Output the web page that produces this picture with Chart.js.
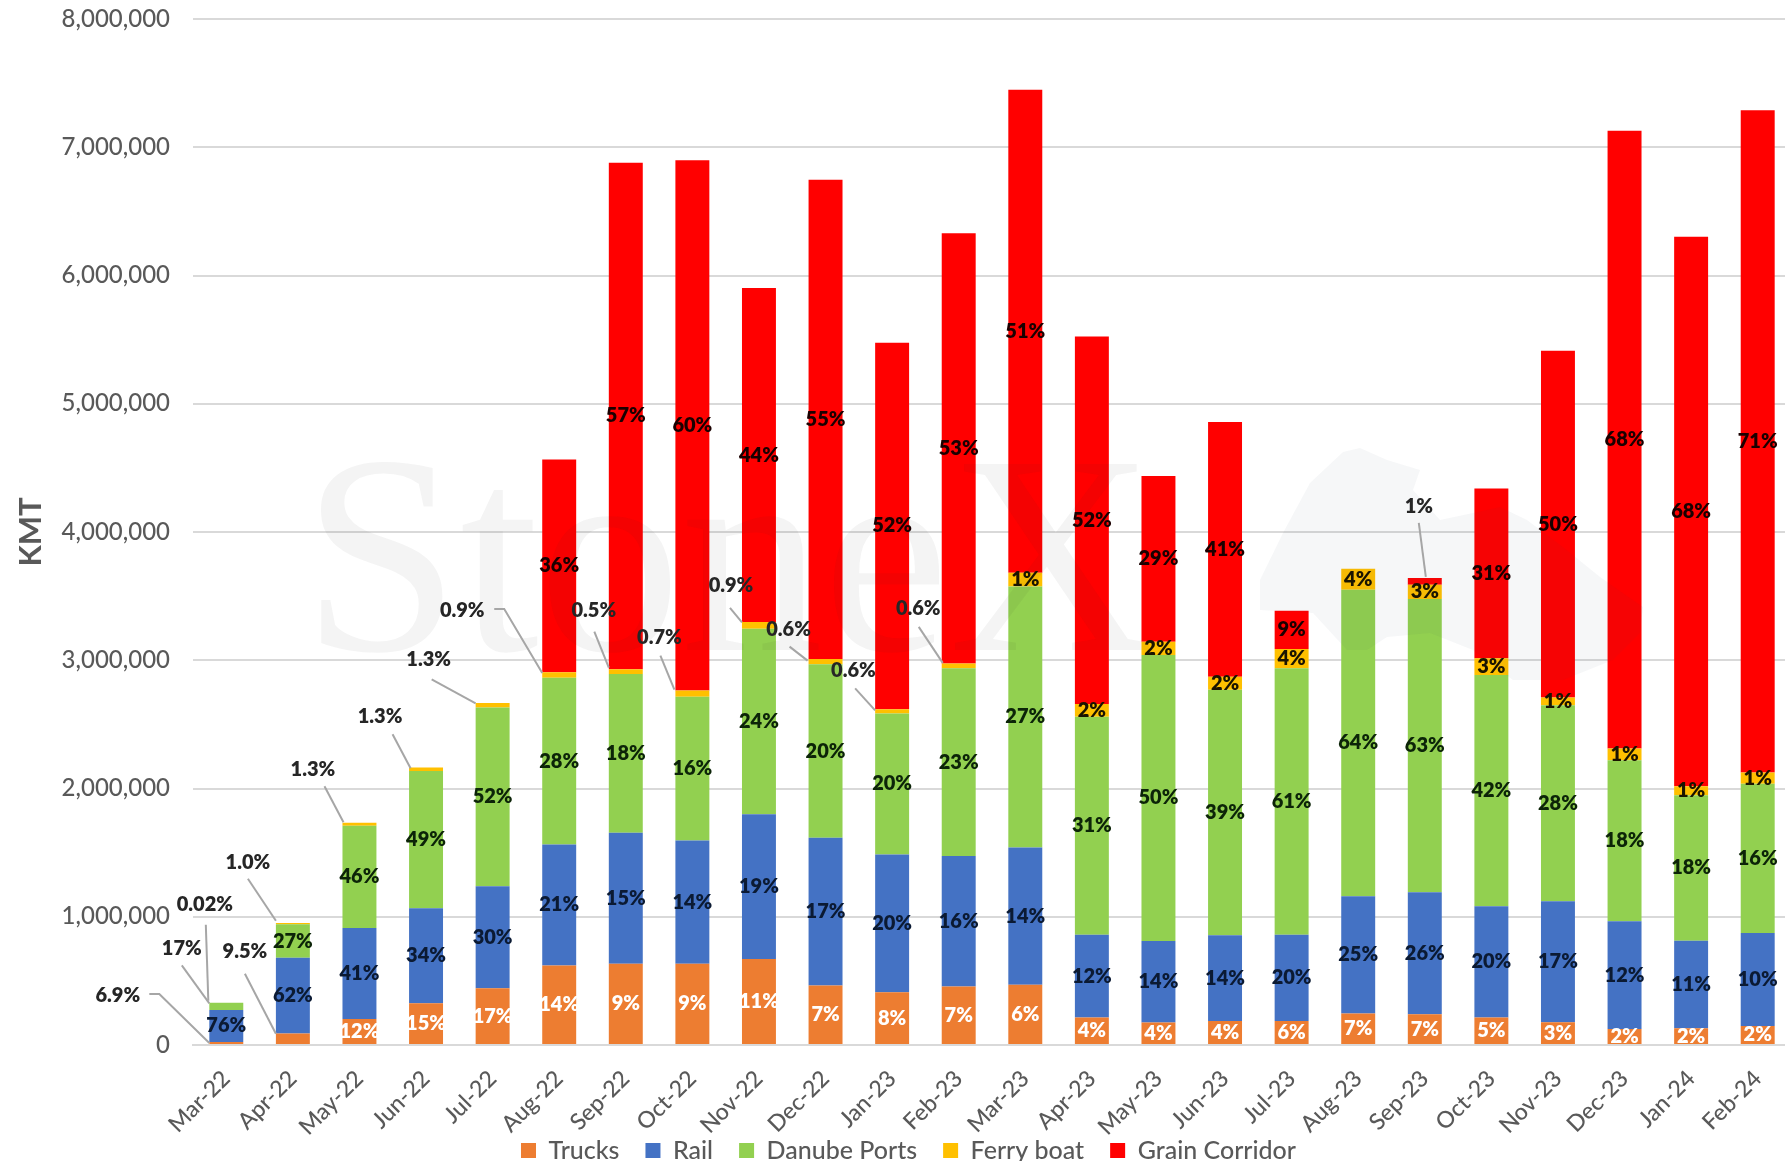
<!DOCTYPE html>
<html>
<head>
<meta charset="utf-8">
<title>Ukrainian grain exports by route</title>
<script src="https://cdn.jsdelivr.net/npm/chart.js@4"></script>
<style>
  html, body { margin: 0; padding: 0; background: #fff; overflow: hidden; }
  canvas { display: block; }
</style>
</head>
<body>
<canvas id="chart" width="1800" height="1161"></canvas>
<script>
// Monthly export volumes per route
const months = ['Mar-22','Apr-22','May-22','Jun-22','Jul-22','Aug-22','Sep-22','Oct-22','Nov-22','Dec-22','Jan-23','Feb-23','Mar-23','Apr-23','May-23','Jun-23','Jul-23','Aug-23','Sep-23','Oct-23','Nov-23','Dec-23','Jan-24','Feb-24'];
const trucks = [22800,90000,203000,326000,443000,620000,633000,633000,670000,464000,412000,456000,470000,214000,175000,188000,188000,245000,240000,214000,177000,125000,130000,149000];
const rail = [250800,590000,709000,740000,795000,944000,1022000,962000,1130000,1152000,1074000,1017000,1070000,646000,636000,667000,672000,915000,951000,868000,944000,839000,683000,724000];
const danube = [56100,261000,798000,1070000,1393000,1300000,1238000,1121000,1445000,1352000,1099000,1464000,2035000,1699000,2230000,1915000,2077000,2390000,2286000,1803000,1529000,1257000,1134000,1165000];
const ferry = [70,9600,23000,28000,35000,42000,37000,48000,53000,42000,33000,38000,107000,99000,104000,101000,150000,164000,112000,130000,60000,91000,70000,86000];
const grain = [0,0,0,0,0,1660000,3950000,4135000,2604000,3737000,2858000,3354000,3767000,2866000,1291000,1987000,298000,0,52000,1325000,2703000,4817000,4285000,5165000];

// Share of each month's total shown inside the bars; null means a callout or no label
const truckShare = [null,null,'12%','15%','17%','14%','9%','9%','11%','7%','8%','7%','6%','4%','4%','4%','6%','7%','7%','5%','3%','2%','2%','2%'];
const railShare = ['76%','62%','41%','34%','30%','21%','15%','14%','19%','17%','20%','16%','14%','12%','14%','14%','20%','25%','26%','20%','17%','12%','11%','10%'];
const danubeShare = [null,'27%','46%','49%','52%','28%','18%','16%','24%','20%','20%','23%','27%','31%','50%','39%','61%','64%','63%','42%','28%','18%','18%','16%'];
const ferryShare = [null,null,null,null,null,null,null,null,null,null,null,null,'1%','2%','2%','2%','4%','4%','3%','3%','1%','1%','1%','1%'];
const grainShare = [null,null,null,null,null,'36%','57%','60%','44%','55%','52%','53%','51%','52%','29%','41%','9%',null,null,'31%','50%','68%','68%','71%'];

const seriesNames = ['Trucks','Rail','Danube Ports','Ferry boat','Grain Corridor'];
const seriesColors = ['#ED7D31','#4472C4','#92D050','#FFC000','#FF0000'];
const seriesValues = [trucks, rail, danube, ferry, grain];
const seriesShares = [truckShare, railShare, danubeShare, ferryShare, grainShare];
const shareColors = ['#ffffff','#0b1a33','#0c2408','#1a1400','#1a0000'];

// Labels for the slim segments, pulled off the bar with a leader line.
// Offsets are in pixels from the bar's left edge at the segment's centre.
const callouts = [
  { month: 0, series: 0, text: '6.9%', dx: -91.5, dy: -47, leader: [[-60,-49],[-50,-49],[0,0]] },
  { month: 0, series: 2, text: '17%', dx: -27.5, dy: -58, leader: [[-27.5,-41],[0,-3]] },
  { month: 0, series: 3, text: '0.02%', dx: -4.5, dy: -98, leader: [[-3.5,-78],[-1,-2]] },
  { month: 1, series: 3, text: '1.0%', dx: -28, dy: -61, leader: [[-28,-45],[0,-3]] },
  { month: 1, series: 0, text: '9.5%', dx: -31, dy: -87, leader: [[-31,-65],[0,-5]] },
  { month: 2, series: 3, text: '1.3%', dx: -29.6, dy: -55, leader: [[-18,-38],[1,-2]] },
  { month: 3, series: 3, text: '1.3%', dx: -29, dy: -53, leader: [[-16.5,-35],[1.5,-1]] },
  { month: 4, series: 3, text: '1.3%', dx: -47, dy: -46, leader: [[-44,-26],[0,-2]] },
  { month: 5, series: 3, text: '0.9%', dx: -80, dy: -64, leader: [[-48,-66],[-38,-66],[0,-2]] },
  { month: 6, series: 3, text: '0.5%', dx: -15, dy: -61, leader: [[-14.5,-40],[0,-4]] },
  { month: 7, series: 3, text: '0.7%', dx: -16, dy: -56, leader: [[-15,-38],[-1,-4]] },
  { month: 8, series: 3, text: '0.9%', dx: -11, dy: -40, leader: [[-12,-17.5],[0,-3]] },
  { month: 9, series: 3, text: '0.6%', dx: -20, dy: -32, leader: [[-19,-15],[-1,-1]] },
  { month: 10, series: 3, text: '0.6%', dx: -21.7, dy: -40.6, leader: [[-20,-23],[0,-1]] },
  { month: 11, series: 3, text: '0.6%', dx: -23.5, dy: -57, leader: [[-23,-39],[1,-3]] },
  { month: 18, series: 4, text: '1%', dx: 11, dy: -75, leader: [[11,-58.6],[18,-4.6]] }
];

// Outline of the pale country shape behind the bars
const mapOutline = [[1343,452],[1360,448],[1387,460],[1420,470],[1413,490],[1440,520],[1473,513],[1500,507],[1527,520],[1563,547],[1600,577],[1643,607],[1640,633],[1613,660],[1563,680],[1513,680],[1473,650],[1430,633],[1387,637],[1367,650],[1347,650],[1313,613],[1260,610],[1260,580],[1283,533],[1310,483]];

const labelFont = '800 20px Lato';
const fontFamily = 'Lato';

const overlayPlugin = {
  id: 'overlay',
  afterLayout(chart) {
    // Month labels run down beside the legend, so let them use the full height
    chart.scales.x.bottom = chart.height;
    const lg = chart.legend;
    lg.left += 5.5; lg.right += 5.5;
    lg.top = 1112; lg.bottom = chart.height;
  },
  afterDatasetsDraw(chart) {
    const ctx = chart.ctx;

    // Faint company wordmark and map across the plot
    ctx.save();
    ctx.fillStyle = 'rgba(40,60,90,0.045)';
    ctx.beginPath();
    mapOutline.forEach((p, i) => i ? ctx.lineTo(p[0], p[1]) : ctx.moveTo(p[0], p[1]));
    ctx.closePath();
    ctx.fill();
    ctx.fillStyle = 'rgba(30,30,30,0.05)';
    ctx.font = '284px "Liberation Serif"';
    ctx.textAlign = 'left';
    ctx.textBaseline = 'alphabetic';
    ctx.fillText('StoneX', 302, 650);
    ctx.restore();

    // Share labels centred in their segments
    ctx.save();
    ctx.font = labelFont;
    ctx.textAlign = 'center';
    ctx.textBaseline = 'middle';
    seriesShares.forEach((shares, s) => {
      const bars = chart.getDatasetMeta(s).data;
      ctx.fillStyle = shareColors[s];
      shares.forEach((text, i) => {
        if (!text) return;
        const b = bars[i];
        ctx.fillText(text, b.x, (b.y + b.base) / 2);
      });
    });

    // Callout labels with their leader lines
    ctx.strokeStyle = '#a6a6a6';
    ctx.lineWidth = 2;
    callouts.forEach(c => {
      const b = chart.getDatasetMeta(c.series).data[c.month];
      const ax = b.x - b.width / 2;
      const ay = (b.y + b.base) / 2;
      ctx.beginPath();
      c.leader.forEach((p, i) => i ? ctx.lineTo(ax + p[0], ay + p[1]) : ctx.moveTo(ax + p[0], ay + p[1]));
      ctx.stroke();
      ctx.fillStyle = '#262626';
      ctx.fillText(c.text, ax + c.dx, ay + c.dy);
    });
    ctx.restore();
  }
};

new Chart(document.getElementById('chart'), {
  type: 'bar',
  data: {
    labels: months,
    datasets: seriesNames.map((name, s) => ({
      label: name,
      data: seriesValues[s],
      backgroundColor: seriesColors[s],
      borderWidth: 0,
      barPercentage: 0.51,
      categoryPercentage: 1
    }))
  },
  plugins: [overlayPlugin],
  options: {
    responsive: false,
    animation: false,
    layout: { autoPadding: false, padding: { left: 15, right: 9, top: 19, bottom: 0 } },
    plugins: {
      tooltip: { enabled: false },
      legend: {
        position: 'bottom',
        labels: {
          color: '#595959',
          font: { family: fontFamily, size: 25, weight: '500' },
          boxWidth: 15,
          boxHeight: 15,
          padding: 26
        }
      }
    },
    scales: {
      x: {
        stacked: true,
        grid: { display: false, drawTicks: false },
        border: { display: true, color: '#d9d9d9', width: 2 },
        ticks: {
          autoSkip: false,
          minRotation: 45,
          maxRotation: 45,
          color: '#595959',
          font: { family: fontFamily, size: 23, weight: '500' },
          padding: 20
        },
        afterFit(scale) { scale.height = 55; scale.paddingTop = 0; scale.paddingBottom = 0; }
      },
      y: {
        stacked: true,
        min: 0,
        max: 8000000,
        grid: { color: '#d9d9d9', lineWidth: 2, drawTicks: false },
        border: { display: false },
        ticks: {
          stepSize: 1000000,
          color: '#595959',
          font: { family: fontFamily, size: 24, weight: '500' },
          padding: 23,
          callback: v => v.toLocaleString('en-US')
        },
        title: {
          display: true,
          text: 'KMT',
          color: '#595959',
          font: { family: fontFamily, size: 31, weight: 'bold', lineHeight: 1 },
          padding: 0
        },
        afterFit(scale) { scale.width = 178; scale.paddingTop = 0; scale.paddingBottom = 0; }
      }
    }
  }
});
</script>
</body>
</html>
